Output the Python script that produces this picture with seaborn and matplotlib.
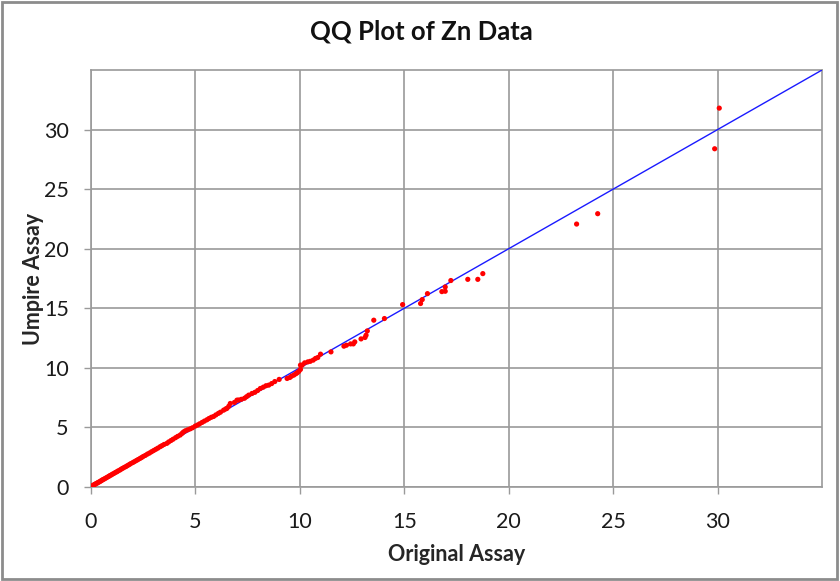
import matplotlib.pyplot as plt
import matplotlib.patches as patches
import seaborn as sns

# Original vs umpire assay values
original_assay = [
    0.03, 0.08, 0.12, 0.16, 0.2, 0.25, 0.3, 0.34, 0.4, 0.45, 0.5, 0.55, 0.6, 0.66, 0.72,
    0.78, 0.85, 0.9, 0.97, 1.03, 1.1, 1.17, 1.24, 1.3, 1.38, 1.45, 1.52, 1.6, 1.68, 1.75,
    1.83, 1.9, 2.0, 2.08, 2.17, 2.25, 2.34, 2.42, 2.5, 2.6, 2.7, 2.8, 2.9, 3.0, 3.1,
    3.2, 3.31, 3.4, 3.5, 3.63, 3.72, 3.83, 3.93, 4.05, 4.15, 4.27, 4.36, 4.43, 4.52, 4.63,
    4.75, 4.86, 4.99, 5.1, 5.2, 5.32, 5.43, 5.55, 5.65, 5.76, 5.87, 5.98, 6.1, 6.2, 6.35,
    6.45, 6.51, 6.6, 6.67, 6.87, 6.99, 7.07, 7.2, 7.35, 7.45, 7.55, 7.71, 7.85, 7.98, 8.11,
    8.25, 8.38, 8.51, 8.65, 8.8, 9.01, 9.39, 9.52, 9.6, 9.71, 9.8, 9.87, 9.95, 10.03, 10.03,
    10.11, 10.23, 10.38, 10.5, 10.64, 10.75, 10.86, 10.99, 11.49, 12.11, 12.23, 12.43, 12.56, 12.63, 12.93,
    13.12, 13.17, 13.23, 13.54, 14.05, 14.92, 15.78, 15.86, 16.11, 16.8, 16.96, 16.96, 17.23, 18.04, 18.52,
    18.76, 23.25, 24.26, 29.86, 30.08,
]
umpire_assay = [
    0.05, 0.1, 0.16, 0.19, 0.24, 0.29, 0.33, 0.38, 0.43, 0.49, 0.53, 0.6, 0.64, 0.7, 0.76,
    0.82, 0.89, 0.95, 1.01, 1.08, 1.14, 1.22, 1.28, 1.35, 1.42, 1.5, 1.57, 1.65, 1.72, 1.8,
    1.88, 1.96, 2.05, 2.13, 2.22, 2.3, 2.39, 2.47, 2.56, 2.65, 2.76, 2.85, 2.96, 3.06, 3.16,
    3.26, 3.38, 3.47, 3.57, 3.66, 3.78, 3.9, 4.01, 4.14, 4.25, 4.36, 4.5, 4.62, 4.72, 4.8,
    4.88, 4.97, 5.11, 5.2, 5.3, 5.42, 5.53, 5.64, 5.75, 5.85, 5.92, 6.05, 6.18, 6.28, 6.45,
    6.55, 6.6, 6.78, 7.01, 7.1, 7.29, 7.3, 7.36, 7.45, 7.58, 7.71, 7.85, 7.95, 8.1, 8.27,
    8.38, 8.5, 8.55, 8.68, 8.85, 9.03, 9.11, 9.19, 9.3, 9.39, 9.5, 9.58, 9.7, 9.87, 10.23,
    10.23, 10.42, 10.5, 10.55, 10.65, 10.79, 10.87, 11.15, 11.34, 11.82, 11.9, 12.01, 12.01, 12.18, 12.43,
    12.55, 12.74, 13.1, 14.0, 14.14, 15.31, 15.4, 15.73, 16.23, 16.4, 16.43, 16.79, 17.33, 17.43, 17.43,
    17.91, 22.07, 22.94, 28.39, 31.8,
]

# 1:1 reference line
line_x = [0, 35]
line_y = [0, 35]

tick_vals = [0, 5, 10, 15, 20, 25, 30]

sns.set_theme(style="white")
plt.rcParams['font.family'] = ['Lato', 'DejaVu Sans']

fig = plt.figure(figsize=(8.4, 5.81), dpi=100)
ax = fig.add_axes([0.1083, 0.1618, 0.8703, 0.7177])

grid_col = '#9a9a9a'
sns.lineplot(x=line_x, y=line_y, ax=ax, color='#1a1aff', linewidth=1.0, zorder=3)
sns.scatterplot(x=original_assay, y=umpire_assay, ax=ax, color='#ff0000', s=14,
                edgecolor='none', linewidth=0, zorder=4)

ax.set_xlim(0, 35)
ax.set_ylim(0, 35)
ax.set_xticks(tick_vals)
ax.set_yticks(tick_vals)
ax.grid(True, color=grid_col, linewidth=1.2)
ax.set_axisbelow(True)
for sp in ax.spines.values():
    sp.set_color(grid_col)
    sp.set_linewidth(1.2)
ax.tick_params(axis='both', direction='out', length=5, width=1, color=grid_col,
               labelsize=15.5, labelcolor='#1a1a1a')
ax.tick_params(axis='x', bottom=True, pad=13)
ax.tick_params(axis='y', left=True, pad=11)

ax.set_xlabel('Original Assay', fontsize=15.5, fontweight='bold', labelpad=9)
ax.set_ylabel('Umpire Assay', fontsize=15.5, fontweight='bold', labelpad=0)
fig.text(0.502, 0.945, 'QQ Plot of Zn Data', ha='center', va='center',
         fontsize=18.5, fontweight='bold', color='#111111')

# chart area border
fig.patches.append(patches.Rectangle((0.002, 0.003), 0.995, 0.993, transform=fig.transFigure,
                                     fill=False, edgecolor='#8c8c8c', linewidth=2))

fig.savefig('out.png', dpi=100)
